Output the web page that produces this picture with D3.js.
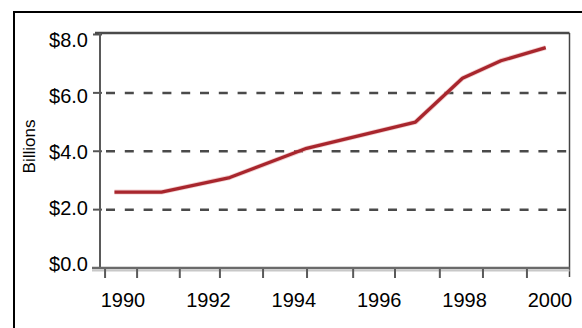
<!DOCTYPE html>
<html>
<head>
<meta charset="utf-8">
<script src="https://cdn.jsdelivr.net/npm/d3@7"></script>
<style>
  html, body { margin: 0; padding: 0; background: #fff; }
  svg { display: block; font-family: "Liberation Sans", Arial, sans-serif; }
</style>
</head>
<body>
<svg id="chart" width="582" height="328"></svg>
<script>
// Annual spending, billions of dollars
const years  = [1989.8, 1990.9, 1992.5, 1994.3, 1996.85, 1997.95, 1998.85, 1999.9];
const values = [2.6, 2.6, 3.1, 4.1, 5.0, 6.5, 7.1, 7.55];

// Axis ticks and labels
const yTickValues = [0, 2, 4, 6, 8];
const yTickLabels = ["$0.0", "$2.0", "$4.0", "$6.0", "$8.0"];
const gridValues  = [2, 4, 6];
const xLabelYears = [1990, 1992, 1994, 1996, 1998, 2000];
const xTickYears  = [1989.58, 1990.33, 1991.33, 1992.27, 1993.28, 1994.31,
                     1995.39, 1996.37, 1997.42, 1998.43, 1999.46];
const yAxisTitle  = "Billions";

const svg = d3.select("#chart");

const plot = { left: 100, right: 569.5, top: 33, bottom: 267 };

const x = d3.scaleLinear().domain([1990, 2000]).range([123, 550]);
const y = d3.scaleLinear().domain([0, 8]).range([268, 34.5]);
const yLabel = d3.scaleLinear().domain([0, 8]).range([264, 40]);

// Outer frame (runs off the right and bottom edges)
svg.append("rect")
  .attr("x", 14).attr("y", 12)
  .attr("width", 600).attr("height", 340)
  .attr("fill", "none").attr("stroke", "#000").attr("stroke-width", 2);

// Dashed gridlines
svg.append("g").selectAll("line").data(gridValues).join("line")
  .attr("x1", plot.left + 2).attr("x2", plot.right)
  .attr("y1", d => y(d)).attr("y2", d => y(d))
  .attr("stroke", "#4a4a4a").attr("stroke-width", 2.5)
  .attr("stroke-dasharray", "9,9.8")
  .attr("stroke-dashoffset", -4);

// Y tick marks
svg.append("g").selectAll("line").data(yTickValues).join("line")
  .attr("x1", 93).attr("x2", plot.left + 2)
  .attr("y1", d => y(d)).attr("y2", d => y(d))
  .attr("stroke", "#555").attr("stroke-width", 2);

// Plot frame
svg.append("line")
  .attr("x1", 95).attr("x2", plot.right)
  .attr("y1", plot.top).attr("y2", plot.top)
  .attr("stroke", "#4a4a4a").attr("stroke-width", 2.5);
svg.append("line")
  .attr("x1", plot.right).attr("x2", plot.right)
  .attr("y1", plot.top).attr("y2", plot.bottom + 10)
  .attr("stroke", "#444").attr("stroke-width", 1.5);
svg.append("line")
  .attr("x1", plot.left).attr("x2", plot.left)
  .attr("y1", plot.top).attr("y2", plot.bottom + 2)
  .attr("stroke", "#5a5a5a").attr("stroke-width", 2);
svg.append("line")
  .attr("x1", 92).attr("x2", plot.right)
  .attr("y1", plot.bottom + 1).attr("y2", plot.bottom + 1)
  .attr("stroke", "#6a6a6a").attr("stroke-width", 2.5);
svg.append("line")
  .attr("x1", 92).attr("x2", plot.right)
  .attr("y1", plot.bottom + 3.5).attr("y2", plot.bottom + 3.5)
  .attr("stroke", "#c8c8c8").attr("stroke-width", 2);

// X tick marks
svg.append("g").selectAll("line").data(xTickYears).join("line")
  .attr("x1", d => x(d)).attr("x2", d => x(d))
  .attr("y1", plot.bottom + 2).attr("y2", plot.bottom + 11)
  .attr("stroke", "#5a5a5a").attr("stroke-width", 2);

// Y labels
svg.append("g").selectAll("text").data(yTickValues).join("text")
  .attr("x", 88).attr("y", d => yLabel(d))
  .attr("dy", "0.36em")
  .attr("text-anchor", "end")
  .attr("font-size", 20).attr("fill", "#000")
  .text((d, i) => yTickLabels[i]);

// X labels
svg.append("g").selectAll("text").data(xLabelYears).join("text")
  .attr("x", d => x(d)).attr("y", 307)
  .attr("text-anchor", "middle")
  .attr("font-size", 20).attr("fill", "#000")
  .text(d => d);

// Axis title
svg.append("text")
  .attr("transform", "translate(35,146.5) rotate(-90)")
  .attr("text-anchor", "middle")
  .attr("font-size", 17).attr("fill", "#000")
  .text(yAxisTitle);

// Spending line
const line = d3.line()
  .x((d, i) => x(years[i]))
  .y(d => y(d));

svg.append("path")
  .datum(values)
  .attr("d", line)
  .attr("fill", "none")
  .attr("stroke", "#e8a0a2").attr("stroke-width", 5)
  .attr("stroke-linejoin", "round").attr("opacity", 0.5);
svg.append("path")
  .datum(values)
  .attr("d", line)
  .attr("fill", "none")
  .attr("stroke", "#a8262d").attr("stroke-width", 3.3)
  .attr("stroke-linejoin", "round");
</script>
</body>
</html>
